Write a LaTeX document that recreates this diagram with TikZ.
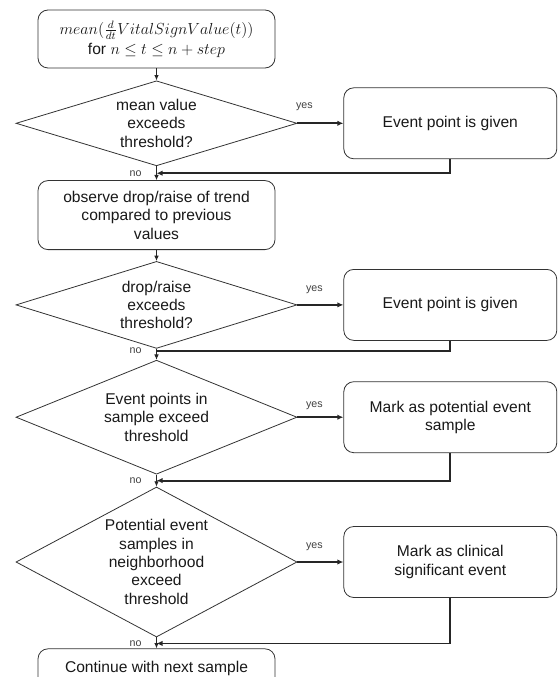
\documentclass[tikz,border=0pt]{standalone}
\usepackage{amsmath,amssymb}
\usepackage{fontspec}
\setmainfont{Liberation Sans}
\usepackage{tikz}
\usetikzlibrary{shapes.geometric, arrows.meta, positioning}

\begin{document}
\begin{tikzpicture}[
    x=0.75pt, y=-0.75pt,
    font=\fontsize{11.7}{13.8}\selectfont,
    process/.style={rectangle, draw=black!80, fill=white, line width=0.6pt, rounded corners=7.5pt, minimum width=177.75pt, align=center, text=black!90, inner sep=2pt},
    eventbox/.style={process, minimum width=159.75pt, minimum height=53.25pt},
    decision/.style={diamond, draw=black!80, line width=0.6pt, minimum width=210.75pt, align=center, text=black!90, inner sep=0pt},
    arrow/.style={-{Latex[length=4pt,width=3.5pt]}, line width=0.7pt, draw=black!85},
    flow/.style={-{Latex[length=4.5pt,width=4pt]}, line width=1.4pt, draw=black!85},
    back/.style={line width=1.4pt, draw=black!85},
    answer/.style={font=\fontsize{8}{9}\selectfont, text=black!75, inner sep=1pt}
]
\useasboundingbox (0,0) rectangle (558,677);

% Left Column: Main Flow
\node[process, minimum height=43.5pt] (mean) at (156.5,39) {$mean(\frac{d}{dt}VitalSignValue(t))$\\[1pt]for $n \leq t \leq n + step$};
\node[decision, below=9pt of mean, minimum height=63.75pt, aspect=3.3] (mean_check) {mean value\\exceeds\\threshold?};
\node[process, below=10.5pt of mean_check, minimum height=51.75pt] (observe) {observe drop/raise of trend\\compared to previous\\values};
\node[decision, below=8.25pt of observe, minimum height=65.25pt, aspect=3.23] (trend_check) {drop/raise\\exceeds\\threshold?};
\node[decision, below=8.25pt of trend_check, minimum height=85.5pt, aspect=2.46] (sample_check) {Event points in\\sample exceed\\threshold};
\node[decision, below=9pt of sample_check, minimum height=112.5pt, aspect=1.87] (hood_check) {Potential event\\samples in\\neighborhood\\exceed\\threshold};
\node[process, below=8.25pt of hood_check, minimum height=30pt] (next) {Continue with next sample};

% Right Column: Outcomes
\node[eventbox, right=34.5pt of mean_check] (event1) {Event point is given};
\node[eventbox, right=34.5pt of trend_check] (event2) {Event point is given};
\node[eventbox, right=34.5pt of sample_check] (potential) {Mark as potential event\\sample};
\node[eventbox, right=34.5pt of hood_check] (clinical) {Mark as clinical\\significant event};

% Merge Points
\path (mean_check.south) -- (observe.north) coordinate[pos=0.5] (m1);
\path (trend_check.south) -- (sample_check.north) coordinate[pos=0.2] (m2);
\path (sample_check.south) -- (hood_check.north) coordinate[pos=0.5] (m3);
\path (hood_check.south) -- (next.north) coordinate[pos=0.55] (m4);

\node[answer, left=10pt of m1] (no1) {no};
\node[answer, left=10pt of m2] (no2) {no};
\node[answer, left=10pt of m3] (no3) {no};
\node[answer, left=10pt of m4] (no4) {no};

% Connectors
\draw[arrow] (mean) -- (mean_check);
\draw[arrow] (mean_check) -- (observe);
\draw[arrow] (observe) -- (trend_check);
\draw[arrow] (trend_check) -- (sample_check);
\draw[arrow] (sample_check) -- (hood_check);
\draw[arrow] (hood_check) -- (next);

\draw[flow] (mean_check.east) -- node[answer, pos=0.15, above=8pt] (yes1) {yes} (event1.west);
\draw[flow] (trend_check.east) -- node[answer, pos=0.37, above=7pt] (yes2) {yes} (event2.west);
\draw[flow] (sample_check.east) -- node[answer, pos=0.37, above=4pt] (yes3) {yes} (potential.west);
\draw[flow] (hood_check.east) -- node[answer, pos=0.37, above=7pt] (yes4) {yes} (clinical.west);

\draw[flow] (event1.south) |- (m1);
\draw[back] (event2.south) |- (m2);
\draw[flow] (potential.south) |- (m3);
\draw[flow] (clinical.south) |- (m4);

\end{tikzpicture}
\end{document}
